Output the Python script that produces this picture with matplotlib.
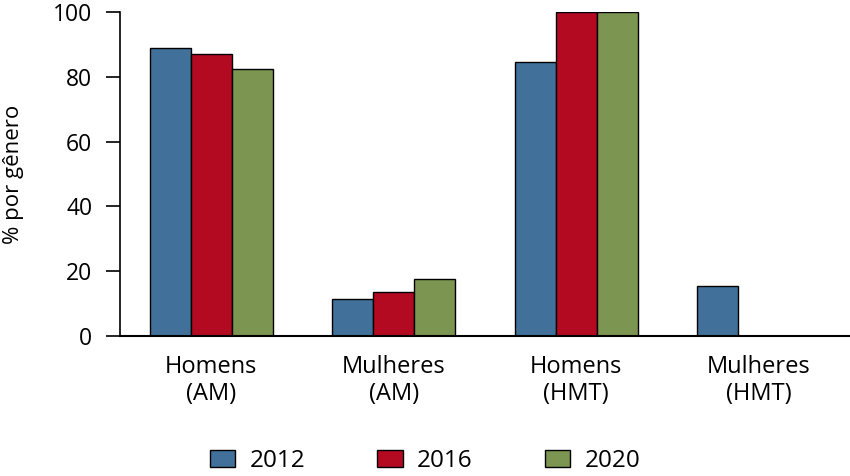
import numpy as np
import matplotlib.pyplot as plt

plt.rcParams['font.family'] = ['Open Sans', 'DejaVu Sans']

categorias = ["Homens\n(AM)", "Mulheres\n(AM)", "Homens\n(HMT)", "Mulheres\n(HMT)"]
anos = ["2012", "2016", "2020"]
v2012 = [89, 11.5, 84.5, 15.5]
v2016 = [87, 13.5, 100, 0]
v2020 = [82.5, 17.5, 100, 0]
cores = ["#41719a", "#b30a22", "#7c9551"]

fig = plt.figure(figsize=(8.5, 4.76), dpi=100)
ax = fig.add_axes([120/850, 140/476, 730/850, 324/476])

x = np.arange(len(categorias))
w = 0.225
for i, (vals, ano) in enumerate(zip([v2012, v2016, v2020], anos)):
    ax.bar(x + (i - 1) * w, vals, w, color=cores[i], edgecolor="black",
           linewidth=1, label=ano)

ax.set_xlim(-0.5, 3.5)
ax.set_ylim(0, 100)
ax.set_yticks([0, 20, 40, 60, 80, 100])
ax.set_xticks(x)
ax.set_xticklabels(categorias, fontsize=17, linespacing=1.15)
ax.tick_params(axis='x', length=0, pad=14)
ax.tick_params(axis='y', length=10, width=1.2, labelsize=16.5, pad=10)
ax.spines['top'].set_visible(False)
ax.spines['right'].set_visible(False)
ax.spines['left'].set_linewidth(1.2)
ax.spines['bottom'].set_linewidth(1.5)
ax.set_ylabel("% por gênero", fontsize=16, labelpad=21)

# legenda em baixo, quase na borda como no original
fig.legend(loc='center', bbox_to_anchor=(0.5, 15/476), ncol=3, frameon=False,
           fontsize=17.5, handlelength=1.05, handleheight=0.68, handletextpad=0.6,
           columnspacing=2.95)

fig.savefig("out.png", dpi=100)
